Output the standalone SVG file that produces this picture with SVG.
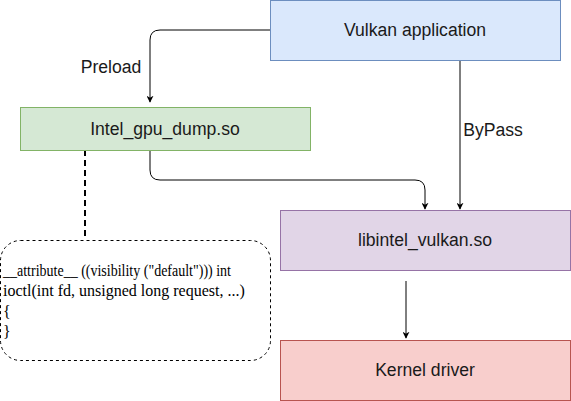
<svg xmlns="http://www.w3.org/2000/svg" width="571" height="401" viewBox="0 0 571 401">
<style>
.lbl{font-family:"Liberation Sans",Arial,sans-serif;font-size:17.6px;fill:#1a1a1a;text-anchor:middle;dominant-baseline:central}
.elbl{font-family:"Liberation Sans",Arial,sans-serif;font-size:17.6px;fill:#1a1a1a;text-anchor:middle;dominant-baseline:central}
.code{font-family:"Liberation Serif","Times New Roman",serif;font-size:16px;fill:#000}
.edge{fill:none;stroke:#000;stroke-width:1}
</style>
<defs>
<marker id="arr" viewBox="0 0 10 10" refX="9" refY="5" markerWidth="7" markerHeight="7" markerUnits="userSpaceOnUse" orient="auto">
<path d="M0,0 L10,5 L0,10 L3,5 Z" fill="#000"/>
</marker>
</defs>
<rect width="571" height="401" fill="#fff"/>
<g id="connectors">
<path class="edge" d="M270,30 L160,30 Q150,30 150,40 L150,102" marker-end="url(#arr)"/>
<path class="edge" d="M150,150 L150,170 Q150,180 160,180 L415,180 Q425,180 425,190 L425,209" marker-end="url(#arr)"/>
<path class="edge" d="M460,60 L460,209" marker-end="url(#arr)"/>
<path class="edge" d="M406,281 L406,338" marker-end="url(#arr)"/>
<path d="M85,150 L85,240" fill="none" stroke="#000" stroke-width="2" stroke-dasharray="6,4"/>
<text class="elbl" x="111" y="67">Preload</text>
<text class="elbl" x="493" y="130">ByPass</text>
</g>
<g id="vulkan">
<rect x="270.5" y="0.5" width="290" height="60" fill="#dae8fc" stroke="#6c8ebf"/>
<text class="lbl" x="415" y="30">Vulkan application</text>
</g>
<g id="gpudump">
<rect x="20.5" y="107.5" width="290" height="43" fill="#d5e8d4" stroke="#82b366"/>
<text class="lbl" x="165" y="129">Intel_gpu_dump.so</text>
</g>
<g id="libintel">
<rect x="280.5" y="210.5" width="290" height="60" fill="#e1d5e7" stroke="#9673a6"/>
<text class="lbl" x="425" y="240">libintel_vulkan.so</text>
</g>
<g id="kernel">
<rect x="280.5" y="340.5" width="290" height="60" fill="#f8cecc" stroke="#b85450"/>
<text class="lbl" x="425" y="370">Kernel driver</text>
</g>
<g id="code">
<rect x="0.5" y="240.5" width="270" height="120" rx="20" ry="20" fill="#fff" stroke="#000" stroke-dasharray="3,3"/>
<text class="code" x="3" y="275.5" font-size="15" textLength="228" lengthAdjust="spacingAndGlyphs">__attribute__ ((visibility ("default"))) int</text>
<text class="code" x="3" y="296">ioctl(int fd, unsigned long request, ...)</text>
<text class="code" x="3" y="316.5">{</text>
<text class="code" x="3" y="336.5">}</text>
</g>
</svg>
